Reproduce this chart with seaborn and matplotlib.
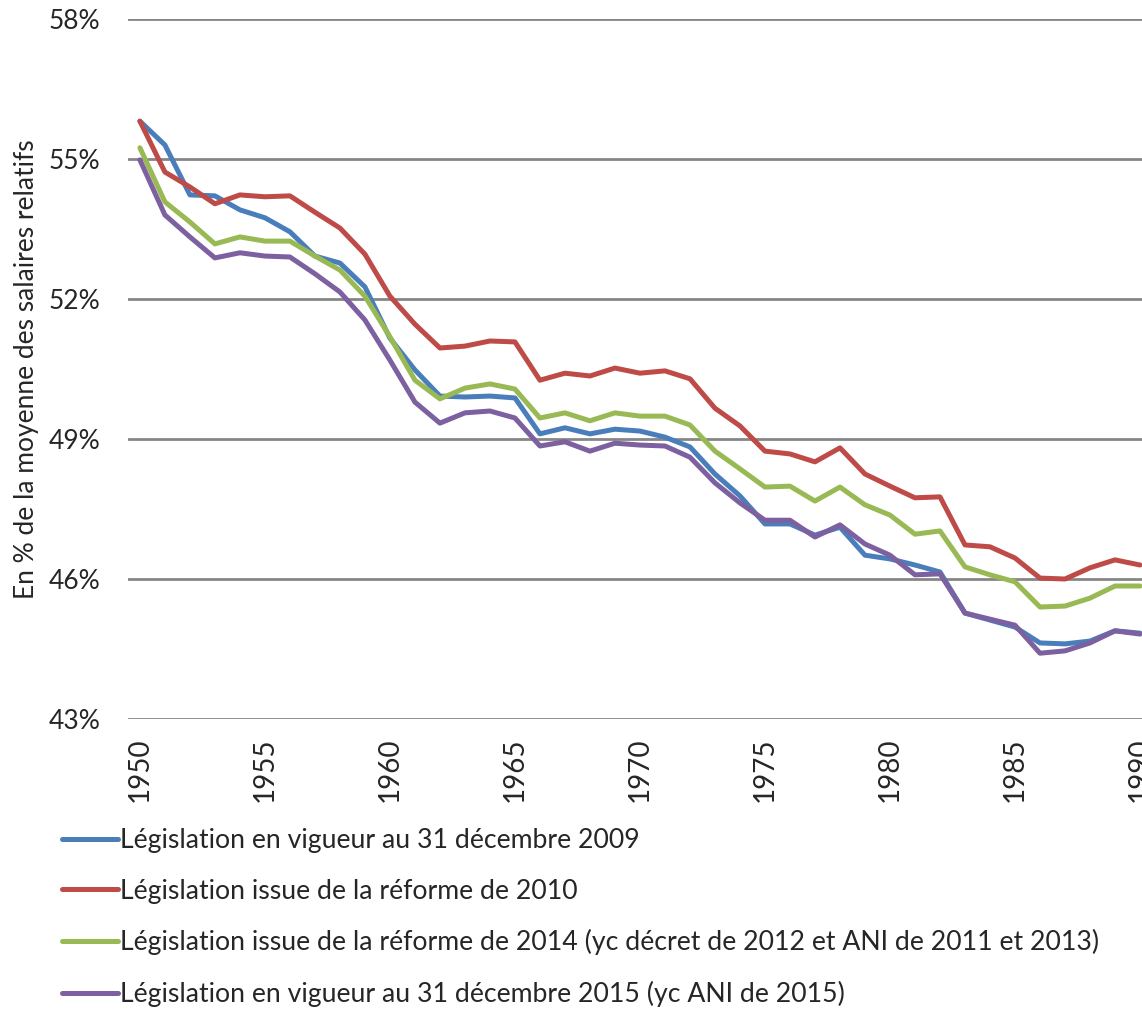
import matplotlib
matplotlib.use('Agg')
import matplotlib.pyplot as plt
import matplotlib.ticker as mticker
import pandas as pd
import seaborn as sns

sns.set_style("white")
plt.rcParams['font.family'] = ['Lato', 'DejaVu Sans']

years = list(range(1950, 1991))

leg_2009 = [55.81, 55.30, 54.23, 54.21, 53.91, 53.74, 53.44, 52.92, 52.77, 52.26,
            51.16, 50.48, 49.92, 49.90, 49.92, 49.88, 49.11, 49.24, 49.11, 49.21,
            49.17, 49.04, 48.83, 48.25, 47.78, 47.18, 47.18, 46.94, 47.11, 46.51,
            46.43, 46.30, 46.15, 45.27, 45.12, 44.97, 44.63, 44.61, 44.67, 44.89,
            44.84]
leg_2010 = [55.81, 54.72, 54.40, 54.04, 54.23, 54.19, 54.21, 53.86, 53.52, 52.96,
            52.06, 51.46, 50.95, 50.99, 51.10, 51.08, 50.26, 50.41, 50.35, 50.52,
            50.41, 50.46, 50.29, 49.66, 49.28, 48.74, 48.68, 48.51, 48.81, 48.25,
            47.99, 47.74, 47.76, 46.73, 46.69, 46.45, 46.02, 46.00, 46.24, 46.41,
            46.30]
leg_2014 = [55.24, 54.08, 53.65, 53.18, 53.33, 53.24, 53.24, 52.92, 52.62, 52.06,
            51.19, 50.26, 49.86, 50.09, 50.18, 50.07, 49.45, 49.56, 49.39, 49.56,
            49.49, 49.49, 49.30, 48.74, 48.36, 47.97, 47.99, 47.67, 47.97, 47.59,
            47.37, 46.96, 47.03, 46.26, 46.09, 45.94, 45.40, 45.42, 45.59, 45.85,
            45.85]
leg_2015 = [54.98, 53.80, 53.33, 52.88, 52.99, 52.92, 52.90, 52.54, 52.15, 51.55,
            50.69, 49.79, 49.34, 49.56, 49.60, 49.45, 48.85, 48.94, 48.74, 48.91,
            48.87, 48.85, 48.61, 48.06, 47.63, 47.26, 47.26, 46.90, 47.16, 46.75,
            46.51, 46.09, 46.11, 45.27, 45.14, 45.01, 44.41, 44.46, 44.63, 44.89,
            44.82]

labels = [
    "Législation en vigueur au 31 décembre 2009",
    "Législation issue de la réforme de 2010",
    "Législation issue de la réforme de 2014 (yc décret de 2012 et ANI de 2011 et 2013)",
    "Législation en vigueur au 31 décembre 2015 (yc ANI de 2015)",
]
colors = ["#4A7EBB", "#BE4B48", "#98B954", "#7D60A0"]

frames = []
for lab, vals in zip(labels, [leg_2009, leg_2010, leg_2014, leg_2015]):
    frames.append(pd.DataFrame({'year': years, 'value': vals, 'serie': lab}))
df = pd.concat(frames, ignore_index=True)

fig = plt.figure(figsize=(11.42, 10.09), dpi=100)
ax = fig.add_axes([0.112, 0.2874, 0.888, 0.6938])

sns.lineplot(data=df, x='year', y='value', hue='serie', palette=colors,
             linewidth=3.6, ax=ax, legend=False)

ax.set_ylim(43, 58)
ax.set_yticks([43, 46, 49, 52, 55, 58])
ax.yaxis.set_major_formatter(mticker.FuncFormatter(lambda v, p: f"{v:.0f}%"))
ax.set_xlim(1949.52, 1990.08)
ax.set_xticks(list(range(1950, 1991, 5)))
ax.tick_params(axis='x', labelrotation=90, length=0, pad=13, labelsize=20)
ax.tick_params(axis='y', length=0, pad=20, labelsize=19)
ax.grid(axis='y', color='#868686', linewidth=2)
ax.set_axisbelow(True)
for s in ax.spines.values():
    s.set_visible(False)
ax.set_xlabel('')
ax.set_ylabel("En % de la moyenne des salaires relatifs", fontsize=19, labelpad=7)

handles = [plt.Line2D([], [], color=c, linewidth=3.6) for c in colors]
fig.legend(handles, labels, loc='upper left', bbox_to_anchor=(0.045, 0.19),
           frameon=False, fontsize=19.2, handlelength=2.1, handletextpad=0.08,
           labelspacing=0.96, borderaxespad=0)

fig.savefig('out.png', dpi=100)
